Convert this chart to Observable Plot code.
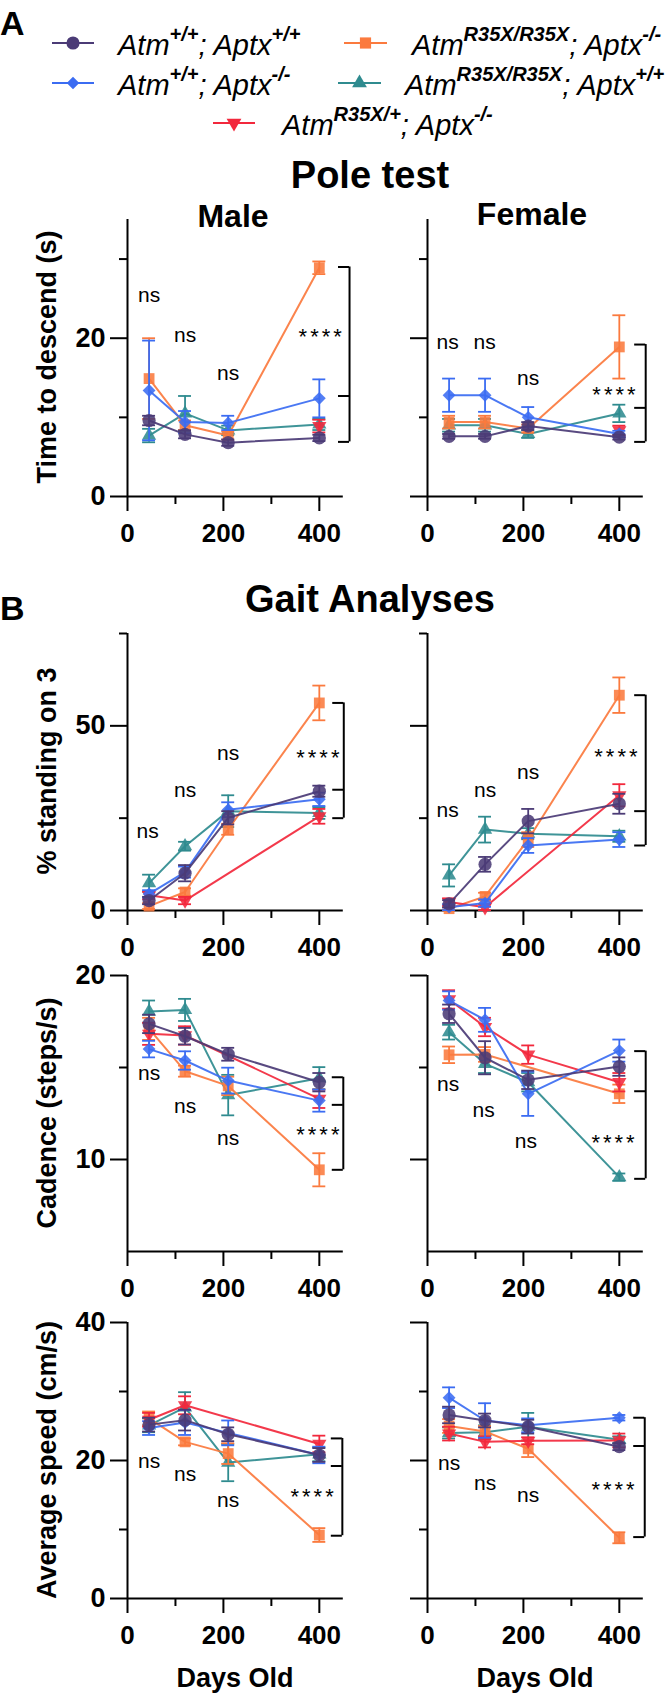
<!DOCTYPE html>
<html><head><meta charset="utf-8">
<script src="https://cdn.jsdelivr.net/npm/d3@7"></script>
<script src="https://cdn.jsdelivr.net/npm/@observablehq/plot@0.6"></script>
<style>
body{margin:0;background:#fff;}
#fig{position:relative;width:665px;height:1700px;overflow:hidden;font-family:"Liberation Sans",Arial,sans-serif;}
#fig > svg{position:absolute;}
</style></head><body><div id="fig"></div>
<script>
// ---------------- data ----------------
const days = [45, 120, 210, 400];
const groups = ["Atm+/+; Aptx+/+", "Atm+/+; Aptx-/-", "AtmR35X/R35X; Aptx-/-", "AtmR35X/R35X; Aptx+/+", "AtmR35X/+; Aptx-/-"];
const groupColors = ["#4b3b76", "#3b6cf2", "#fb7a3e", "#2f8b8f", "#f2283c"];
const xTicksMajor = [0, 200, 400];
const xTicksMinor = [100, 300];

// Pole test (Time to descend, s)
const poleMaleMean = [[9.6,7.85,6.8,7.4],[13.4,9.4,9.3,12.4],[14.9,9.0,7.7,28.9],[7.7,10.5,8.35,9.1],[null,null,null,8.9]];
const poleMaleErr  = [[0.6,0.5,0.4,0.4],[6.3,1.4,0.9,2.4],[5.1,0.6,0.5,0.8],[0.85,2.2,0.6,0.7],[null,null,null,0.8]];
const poleFemaleMean = [[7.6,7.6,8.9,7.5],[12.8,12.8,10.0,7.9],[9.4,9.4,8.6,18.9],[9.0,9.0,7.9,10.5],[null,null,null,8.35]];
const poleFemaleErr  = [[0.3,0.3,0.5,0.3],[2.1,2.1,1.3,0.4],[0.8,0.8,0.5,4.0],[0.8,0.8,0.5,1.1],[null,null,null,0.6]];

// % standing on 3
const standMaleMean = [[2.7,10.1,25.1,32.3],[4.5,10.4,27.3,30.1],[1.2,5.0,22.0,56.2],[7.4,17.4,26.9,26.4],[4.1,2.7,null,25.5]];
const standMaleErr  = [[1.0,2.2,1.8,1.5],[1.0,1.5,2.0,1.8],[0.8,1.0,1.5,4.7],[2.3,1.2,4.3,1.6],[1.0,1.0,null,2.0]];
const standFemaleMean = [[1.8,12.5,24.2,28.9],[0.9,2.0,17.6,19.2],[0.5,3.8,19.2,58.3],[9.5,21.9,20.8,20.1],[2.3,0.9,null,31.2]];
const standFemaleErr  = [[1.0,2.0,3.3,2.7],[0.8,1.0,2.0,2.0],[0.5,1.0,2.0,4.8],[3.0,3.5,1.5,1.5],[1.0,0.8,null,3.0]];

// Cadence (steps/s)
const cadMaleMean = [[17.37,16.7,15.72,14.2],[16.0,15.38,14.29,13.2],[17.1,14.8,14.0,9.44],[18.04,18.13,13.5,14.42],[16.83,16.74,null,13.3]];
const cadMaleErr  = [[0.5,0.45,0.35,0.5],[0.45,0.5,0.7,0.6],[0.6,0.3,0.5,0.9],[0.6,0.6,1.1,0.6],[0.6,0.5,null,0.5]];
const cadFemaleMean = [[17.92,15.53,14.33,15.05],[18.64,17.59,13.57,15.92],[15.69,15.71,null,13.57],[16.92,15.2,14.2,9.04],[18.7,17.2,15.7,14.2]];
const cadFemaleErr  = [[0.5,0.9,0.5,0.5],[0.5,0.65,1.2,0.6],[0.45,0.4,null,0.5],[0.4,0.5,0.5,0.2],[0.5,0.5,0.5,0.5]];

// Average speed (cm/s)
const speedMaleMean = [[25.2,25.85,23.8,20.8],[24.7,25.5,24.0,20.8],[26.1,22.7,21.0,9.2],[25.1,27.7,19.7,20.9],[25.9,28.0,null,22.4]];
const speedMaleErr  = [[1.0,1.5,1.0,1.0],[1.0,1.8,1.8,1.2],[1.0,0.5,1.5,1.0],[1.0,2.2,2.7,1.0],[1.0,1.3,null,1.2]];
const speedFemaleMean = [[26.6,25.8,24.9,22.0],[29.1,25.8,25.1,26.2],[25.0,24.2,21.7,8.8],[24.0,24.1,24.9,23.0],[23.9,22.7,22.85,22.9]];
const speedFemaleErr  = [[1.2,1.0,1.0,0.5],[1.5,2.5,1.0,0.4],[1.0,0.8,1.2,0.8],[0.8,1.0,2.0,0.5],[1.0,0.8,0.5,1.0]];

// significance brackets [top, middle, bottom]
const bracketsMale   = {pole:[29.0,12.7,6.9], stand:[56.2,32.7,25.0], cad:[14.47,12.97,9.44], speed:[23.2,19.2,9.1]};
const bracketsFemale = {pole:[19.2,11.2,6.9], stand:[58.3,26.9,17.6], cad:[15.89,13.71,8.95], speed:[26.2,22.1,8.9]};
// "ns" label positions [day, value] and "****" label position
const nsMale   = {pole:[[45,25.4],[120,20.4],[210,15.6]], stand:[[42,21.4],[120,32.5],[210,42.7]], cad:[[45,14.66],[120,12.9],[210,11.18]], speed:[[45,19.95],[120,18.0],[210,14.3]]};
const nsFemale = {pole:[[42,19.5],[119,19.5],[210,14.9]], stand:[[42,27.1],[120,32.5],[210,37.5]], cad:[[43,14.1],[117,12.7],[205,11.0]], speed:[[45,19.6],[120,16.7],[210,15.0]]};
const starsMale   = {pole:[405,20.8], stand:[400,42.7], cad:[400,11.58], speed:[388,15.5]};
const starsFemale = {pole:[392,13.4], stand:[396,42.9], cad:[390,11.18], speed:[390,16.4]};

// ---------------- drawing ----------------
const fig = document.getElementById("fig");
const FONT = "Liberation Sans, Arial, sans-serif";
const triDown = {draw(ctx, size) {
  const y = -Math.sqrt(size / (Math.sqrt(3) * 3)), s = Math.sqrt(3);
  ctx.moveTo(0, -y * 2); ctx.lineTo(-s * y, y); ctx.lineTo(s * y, y); ctx.closePath();
}};
const symbols = ["circle", "diamond2", "square", "triangle", triDown];
const radii = [6.6, 5.8, 6.1, 5.3, 5.3];
const drawOrder = [3, 2, 4, 1, 0];

const rows = {
  pole:  {top:200, height:360, mt:19, mb:64, domain:[0,35], major:[0,20], minor:[10,30]},
  stand: {top:615, height:350, mt:18, mb:55, domain:[0,75], major:[0,50], minor:[25,75]},
  cad:   {top:960, height:345, mt:15, mb:54, domain:[5,20], major:[10,20], minor:[15]},
  speed: {top:1305, height:350, mt:17, mb:57, domain:[0,40], major:[0,20,40], minor:[10,30]}
};
const cols = {
  male:   {left:0, width:355, ml:127, mr:12.2, bx:{pole:463, stand:451, cad:450, speed:448}},
  female: {left:355, width:310, ml:72, mr:22.2, bx:{pole:455, stand:455, cad:455, speed:453}}
};

function panel(rowKey, colKey, means, errs, bracket, ns, star) {
  const R = rows[rowKey], C = cols[colKey], female = colKey === "female";
  const bx = C.bx[rowKey];
  const marks = [
    Plot.ruleY([R.domain[0]], {x1: 0, x2: 450, stroke: "black", strokeWidth: 2}),
    Plot.ruleX([0], {y1: R.domain[0], y2: R.domain[1], stroke: "black", strokeWidth: 2}),
    Plot.axisY({ticks: R.major, tickSize: 17, tickPadding: 5, fontSize: 27, fontWeight: "bold", strokeWidth: 2,
      tickFormat: female ? () => "" : d3.format("d"), label: null}),
    Plot.axisY({ticks: R.minor, tickSize: 8, strokeWidth: 2, tickFormat: () => "", label: null}),
    Plot.axisX({ticks: xTicksMajor, tickSize: 15, tickPadding: 12, fontSize: 26, fontWeight: "bold", strokeWidth: 2,
      tickFormat: d3.format("d"), label: null}),
    Plot.axisX({ticks: xTicksMinor, tickSize: 8, strokeWidth: 2, tickFormat: () => "", label: null})
  ];
  for (const g of drawOrder) {
    const data = days.map((d, i) => ({day: d, mean: means[g][i], err: errs[g][i], group: groups[g]}))
      .filter(r => r.mean != null);
    const lo = r => r.mean - r.err, hi = r => r.mean + r.err;
    marks.push(
      Plot.line(data, {x: "day", y: "mean", stroke: "group", strokeWidth: 2, strokeOpacity: 0.92}),
      Plot.ruleX(data, {x: "day", y1: lo, y2: hi, stroke: "group", strokeWidth: 1.8}),
      Plot.ruleY(data, {y: hi, x1: r => r.day - 13.5, x2: r => r.day + 13.5, stroke: "group", strokeWidth: 1.8}),
      Plot.ruleY(data, {y: lo, x1: r => r.day - 13.5, x2: r => r.day + 13.5, stroke: "group", strokeWidth: 1.8}),
      Plot.dot(data, {x: "day", y: "mean", fill: "group", symbol: symbols[g], r: radii[g], fillOpacity: 0.88})
    );
  }
  marks.push(
    Plot.ruleX([bx], {y1: bracket[2], y2: bracket[0], stroke: "black", strokeWidth: 2}),
    Plot.ruleY(bracket, {y: d => d, x1: bx - 23, x2: bx, stroke: "black", strokeWidth: 2}),
    Plot.text(ns, {x: d => d[0], y: d => d[1], text: () => "ns", fontSize: 21, fill: "black"}),
    Plot.text([star], {x: d => d[0], y: d => d[1], text: () => "****", fontSize: 22, dy: 5, fill: "black"})
  );
  const svg = Plot.plot({
    width: C.width, height: R.height,
    marginLeft: C.ml, marginRight: C.mr, marginTop: R.mt, marginBottom: R.mb,
    x: {domain: [0, 450]},
    y: {domain: R.domain},
    color: {domain: groups, range: groupColors},
    style: {background: "transparent", overflow: "visible", fontFamily: FONT, color: "black"},
    marks
  });
  d3.select(svg).selectAll("text").filter(function() { return this.textContent === "****"; })
    .attr("letter-spacing", 3);
  svg.style.left = C.left + "px";
  svg.style.top = R.top + "px";
  fig.appendChild(svg);
}

panel("pole", "male", poleMaleMean, poleMaleErr, bracketsMale.pole, nsMale.pole, starsMale.pole);
panel("pole", "female", poleFemaleMean, poleFemaleErr, bracketsFemale.pole, nsFemale.pole, starsFemale.pole);
panel("stand", "male", standMaleMean, standMaleErr, bracketsMale.stand, nsMale.stand, starsMale.stand);
panel("stand", "female", standFemaleMean, standFemaleErr, bracketsFemale.stand, nsFemale.stand, starsFemale.stand);
panel("cad", "male", cadMaleMean, cadMaleErr, bracketsMale.cad, nsMale.cad, starsMale.cad);
panel("cad", "female", cadFemaleMean, cadFemaleErr, bracketsFemale.cad, nsFemale.cad, starsFemale.cad);
panel("speed", "male", speedMaleMean, speedMaleErr, bracketsMale.speed, nsMale.speed, starsMale.speed);
panel("speed", "female", speedFemaleMean, speedFemaleErr, bracketsFemale.speed, nsFemale.speed, starsFemale.speed);

// ---------------- overlay text & legend ----------------
const ov = d3.select(fig).append("svg").attr("width", 665).attr("height", 1700)
  .style("left", "0px").style("top", "0px").style("pointer-events", "none")
  .attr("font-family", FONT);

function txt(x, y, s, size, anchor = "middle", weight = "bold") {
  return ov.append("text").attr("x", x).attr("y", y).attr("font-size", size)
    .attr("font-weight", weight).attr("text-anchor", anchor).text(s);
}
txt(0, 35, "A", 34, "start");
txt(0, 620, "B", 34, "start");
txt(370, 188, "Pole test", 38);
txt(233, 227, "Male", 32);
txt(532, 225, "Female", 32);
txt(370, 612, "Gait Analyses", 38);
txt(235, 1687, "Days Old", 27);
txt(535, 1687, "Days Old", 27);
const yLabels = [["Time to descend (s)", 357], ["% standing on 3", 771], ["Cadence (steps/s)", 1113], ["Average speed (cm/s)", 1460]];
for (const [s, cy] of yLabels) {
  ov.append("text").attr("transform", `translate(56,${cy}) rotate(-90)`).attr("text-anchor", "middle")
    .attr("font-size", 27).attr("font-weight", "bold").text(s);
}

// legend
const legendItems = [
  {g: 0, x1: 52, x2: 94, y: 43, tx: 118, ty: 55, parts: ["Atm", "+/+", "; Aptx", "+/+"]},
  {g: 1, x1: 52, x2: 94, y: 83, tx: 118, ty: 95, parts: ["Atm", "+/+", "; Aptx", "-/-"]},
  {g: 2, x1: 344, x2: 387, y: 43, tx: 412, ty: 55, parts: ["Atm", "R35X/R35X", "; Aptx", "-/-"]},
  {g: 3, x1: 338, x2: 381, y: 83, tx: 405, ty: 95, parts: ["Atm", "R35X/R35X", "; Aptx", "+/+"]},
  {g: 4, x1: 213, x2: 255, y: 123, tx: 282, ty: 135, parts: ["Atm", "R35X/+", "; Aptx", "-/-"]}
];
const legSym = [d3.symbolCircle, d3.symbolDiamond2, d3.symbolSquare, d3.symbolTriangle, triDown];
const legSize = [135, 100, 125, 95, 95];
for (const it of legendItems) {
  const c = groupColors[it.g];
  ov.append("line").attr("x1", it.x1).attr("x2", it.x2).attr("y1", it.y).attr("y2", it.y)
    .attr("stroke", c).attr("stroke-width", 2.2);
  ov.append("path").attr("d", d3.symbol(legSym[it.g], legSize[it.g])())
    .attr("transform", `translate(${(it.x1 + it.x2) / 2},${it.y})`).attr("fill", c);
  const t = ov.append("text").attr("x", it.tx).attr("y", it.ty).attr("font-style", "italic").attr("font-size", 29);
  t.append("tspan").text(it.parts[0]);
  t.append("tspan").attr("dy", -14).attr("font-size", 20).attr("font-weight", "bold").text(it.parts[1]);
  t.append("tspan").attr("dy", 14).text(it.parts[2]);
  t.append("tspan").attr("dy", -14).attr("font-size", 20).attr("font-weight", "bold").text(it.parts[3]);
}
</script></body></html>
